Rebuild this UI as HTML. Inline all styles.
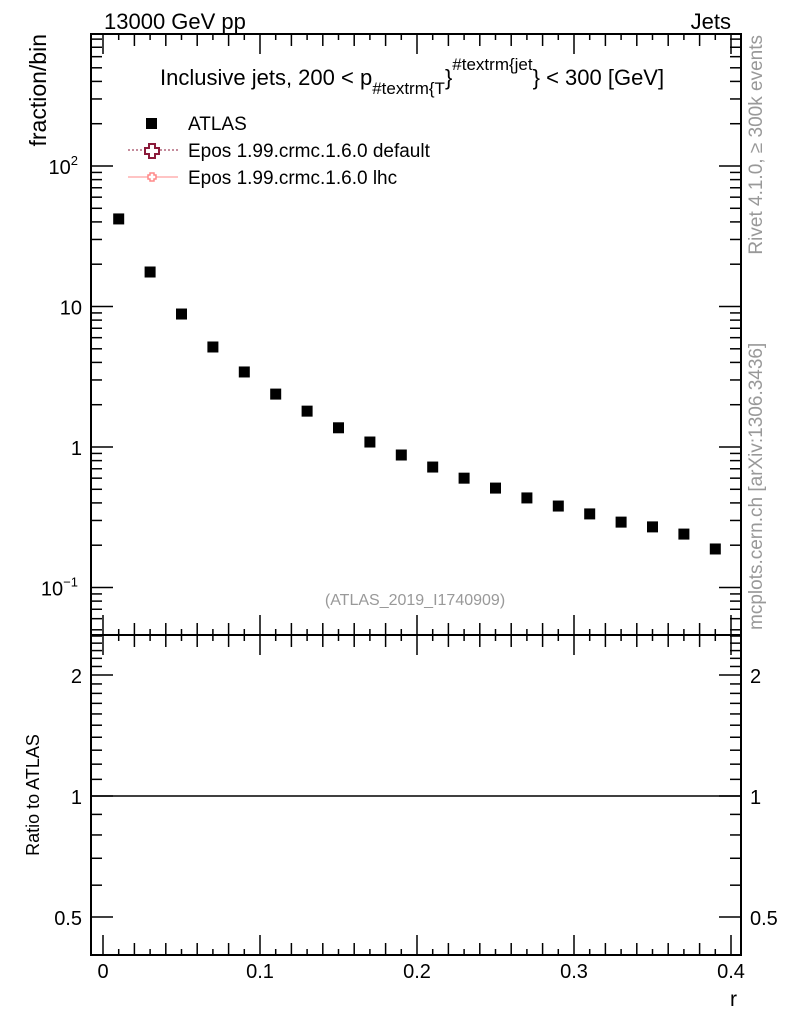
<!DOCTYPE html>
<html><head><meta charset="utf-8"><style>
body{margin:0;background:#fff;}
svg{display:block;font-family:"Liberation Sans",sans-serif;}
</style></head><body>
<svg id="c" width="786" height="1024" xmlns="http://www.w3.org/2000/svg">
<text x="104" y="29" font-size="22">13000 GeV pp</text>
<text x="731" y="29" font-size="22" text-anchor="end">Jets</text>
<text x="160" y="85" font-size="22">Inclusive jets, 200 &lt; p<tspan font-size="17" dy="9">#textrm{T</tspan><tspan dy="-9" font-size="22">}</tspan><tspan font-size="17" dy="-15">#textrm{jet</tspan><tspan dy="15" font-size="22">} &lt; 300 [GeV]</tspan></text>
<text transform="translate(46,34) rotate(-90)" font-size="23" text-anchor="end">fraction/bin</text>
<text transform="translate(39,795) rotate(-90)" font-size="18" text-anchor="middle">Ratio to ATLAS</text>
<text x="737" y="1006" font-size="21" text-anchor="end">r</text>
<text transform="translate(762,35) rotate(-90)" font-size="19" fill="#999" text-anchor="end">Rivet 4.1.0, ≥ 300k events</text>
<text transform="translate(762,630) rotate(-90)" font-size="19" fill="#999">mcplots.cern.ch [arXiv:1306.3436]</text>
<text x="415" y="605" font-size="16" fill="#999" text-anchor="middle">(ATLAS_2019_I1740909)</text>
<g>
<rect x="146" y="118" width="11" height="11" fill="#000"/>
<text x="188" y="130" font-size="19">ATLAS</text>
<line x1="128" y1="150" x2="178" y2="150" stroke="#8b1a3a" stroke-dasharray="2,2"/>
<path d="M149,144h6v4h4v6h-4v4h-6v-4h-4v-6h4z" fill="#fff" stroke="#8b1a3a" stroke-width="2"/>
<text x="188" y="157" font-size="19">Epos 1.99.crmc.1.6.0 default</text>
<line x1="128" y1="177" x2="178" y2="177" stroke="#f88"/>
<path d="M150,173h4v2h2v4h-2v2h-4v-2h-2v-4h2z" fill="#fff" stroke="#f88" stroke-width="1.5"/>
<text x="188" y="184" font-size="19">Epos 1.99.crmc.1.6.0 lhc</text>
</g>
<g id="axes"></g>
<g id="marks"></g>
</svg>
<script>
const xCenters=[0.01,0.03,0.05,0.07,0.09,0.11,0.13,0.15,0.17,0.19,0.21,0.23,0.25,0.27,0.29,0.31,0.33,0.35,0.37,0.39];
const atlasValues=[42,17.6,8.84,5.15,3.42,2.38,1.80,1.37,1.085,0.877,0.72,0.60,0.51,0.434,0.38,0.334,0.292,0.27,0.24,0.188];
const xTickLabels=["0","0.1","0.2","0.3","0.4"];
const ratioTickValues=[0.5,1,2];
const NS="http://www.w3.org/2000/svg";
const L=91,R=741,T=34,M=635,B=955;
const X=v=>103+v*1570;
const Y=v=>447-Math.log10(v)*140.5;
const YR=v=>796-Math.log10(v)*402;
const ax=document.getElementById('axes'),mk=document.getElementById('marks');
function el(t,a,p){const e=document.createElementNS(NS,t);for(const k in a)e.setAttribute(k,a[k]);(p||ax).appendChild(e);return e;}
const f1=el('rect',{x:L,y:T,width:R-L,height:M-T,fill:'none',stroke:'#000','stroke-width':2});


const f2=el('rect',{x:L,y:M,width:R-L,height:B-M,fill:'none',stroke:'#000','stroke-width':2});


for(let i=0;i<=42;i++){const v=i*0.01;const x=X(v);if(x>R)break;const big=i%10==0,len=big?20:(i%2==0?12:6);
 [[T,1],[M,1],[M,-1],[B,-1]].forEach(([y,d])=>{el('line',{x1:x,x2:x,y1:y,y2:y+d*len,stroke:'#000','stroke-width':1.5});});}
xTickLabels.forEach(s=>{const t=el('text',{x:X(+s),y:978,'font-size':20,'text-anchor':'middle'});t.textContent=s;
 
 });
for(let e=-2;e<=2;e++)for(let m=1;m<10;m++){const v=m*Math.pow(10,e);const y=Y(v);if(y<T||y>M)continue;const len=m==1?22:11;
 el('line',{x1:L,x2:L+len,y1:y,y2:y,stroke:'#000','stroke-width':1.5});el('line',{x1:R,x2:R-len,y1:y,y2:y,stroke:'#000','stroke-width':1.5});}
[[2,'10','2'],[1,'10',''],[0,'1',''],[-1,'10','−1']].forEach(([e,b,s])=>{const t=el('text',{x:s?78:82,y:Y(Math.pow(10,e))+8,'font-size':20,'text-anchor':'end'});t.textContent=b;
 if(s){const ts=el('tspan',{'font-size':13,dy:-9},t);ts.textContent=s;}
 
 });
for(let v=0.4;v<=2.55;v+=0.1){const y=YR(v);if(y<M||y>B)continue;const r=Math.round(v*10);const len=(r==5||r==10||r==20)?22:11;
 el('line',{x1:L,x2:L+len,y1:y,y2:y,stroke:'#000','stroke-width':1.5});el('line',{x1:R,x2:R-len,y1:y,y2:y,stroke:'#000','stroke-width':1.5});}
ratioTickValues.forEach(v=>{[[82,'end'],[750,'start']].forEach(([x,a])=>{const t=el('text',{x:x,y:YR(v)+8,'font-size':20,'text-anchor':a});t.textContent=String(v);
 
 });});
const ref=el('line',{x1:L,x2:R,y1:YR(1),y2:YR(1),stroke:'#000','stroke-width':1.5});


xCenters.forEach((xv,i)=>{const r=el('rect',{x:X(xv)-5.5,y:Y(atlasValues[i])-5.5,width:11,height:11,fill:'#000'},mk);
 
 });
</script>
</body></html>
